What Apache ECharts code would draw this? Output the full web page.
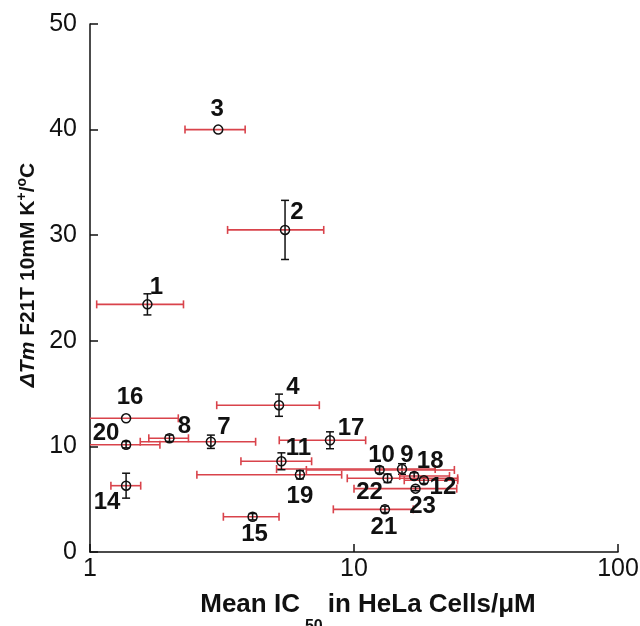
<!DOCTYPE html>
<html><head><meta charset="utf-8">
<script src="https://cdn.jsdelivr.net/npm/echarts@6/dist/echarts.min.js"></script>
<style>html,body{margin:0;padding:0;background:#fff}#c{width:640px;height:626px}</style>
</head><body><div id="c"></div>
<script>
// ---- data ----
const compounds = ['1','2','3','4','7','8','9','10','11','12','14','15','16','17','18','19','20','21','22','23'];
const ic50      = [1.65,5.48,3.06,5.2,2.87,2.0,15.2,12.5,5.31,18.4,1.37,4.13,1.37,8.11,16.9,6.24,1.37,13.1,13.4,17.1];
const ic50Low   = [1.06,3.32,2.29,3.02,1.55,1.67,5.09,6.6,3.73,15.5,1.2,3.2,0.7,5.21,14.9,2.54,0.7,8.35,9.43,10.0];
const ic50High  = [2.26,7.68,3.87,7.39,4.24,2.36,20.3,24.0,6.91,24.7,1.556,5.2,2.16,11.07,23.0,8.98,1.84,16.77,24.7,24.5];
const dTm       = [23.45,30.5,40.0,13.9,10.44,10.77,7.86,7.77,8.59,6.79,6.28,3.34,12.66,10.58,7.2,7.32,10.16,4.04,6.98,6.0];
const dTmErr    = [1.0,2.8,0,1.05,0.63,0.3,0.5,0.3,0.8,0.3,1.18,0.3,0,0.8,0.3,0.4,0.3,0.3,0.4,0.2];
const xTicks = [1, 10, 100];
const yTicks = [0, 10, 20, 30, 40, 50];

// ---- layout (label placement relative to each point, px) ----
const labelOffsets = [[9,-17],[12,-18],[-1,-20],[14,-18],[13,-14],[15,-12],[5,-14],[2,-15],[17,-13],[19,7],
  [-19,17],[2,18],[4,-21],[21,-12],[16,-15],[0,22],[-20,-11],[-1,18],[-18,14],[7,18]];

const FONT = '"Liberation Sans", Arial, Helvetica, sans-serif';
const RED = '#d9434b';
const INK = '#111111';

const barData = compounds.map((c, i) => [ic50[i], dTm[i], ic50Low[i], ic50High[i], dTm[i] - dTmErr[i], dTm[i] + dTmErr[i]]);
const pointData = compounds.map((c, i) => ({
  name: c, value: [ic50[i], dTm[i]],
  label: { offset: labelOffsets[i] }
}));

function renderBars(params, api) {
  const x = api.value(0), y = api.value(1);
  const xl = api.value(2), xh = api.value(3), yl = api.value(4), yh = api.value(5);
  const xMin = xTicks[0];
  const clamped = xl < xMin;
  const pL = api.coord([Math.max(xl, xMin), y]);
  const pH = api.coord([xh, y]);
  const cap = 4;
  const rs = { stroke: RED, lineWidth: 1.6 };
  const ch = [];
  ch.push({ type: 'line', shape: { x1: pL[0], y1: pL[1], x2: pH[0], y2: pH[1] }, style: rs });
  if (!clamped) ch.push({ type: 'line', shape: { x1: pL[0], y1: pL[1] - cap, x2: pL[0], y2: pL[1] + cap }, style: rs });
  ch.push({ type: 'line', shape: { x1: pH[0], y1: pH[1] - cap, x2: pH[0], y2: pH[1] + cap }, style: rs });
  if (yh > yl) {
    const pt = api.coord([x, yh]), pb = api.coord([x, yl]);
    const bs = { stroke: INK, lineWidth: 1.5 };
    ch.push({ type: 'line', shape: { x1: pt[0], y1: pt[1], x2: pb[0], y2: pb[1] }, style: bs });
    ch.push({ type: 'line', shape: { x1: pt[0] - 4, y1: pt[1], x2: pt[0] + 4, y2: pt[1] }, style: bs });
    ch.push({ type: 'line', shape: { x1: pb[0] - 4, y1: pb[1], x2: pb[0] + 4, y2: pb[1] }, style: bs });
  }
  return { type: 'group', children: ch };
}

const axisCommon = {
  axisLine: { lineStyle: { color: INK, width: 1.5 } },
  axisTick: { inside: true, length: 8, lineStyle: { color: INK, width: 1.5 } },
  splitLine: { show: false },
  minorTick: { show: false },
  nameLocation: 'middle'
};

const chart = echarts.init(document.getElementById('c'), null, { renderer: 'canvas' });
chart.setOption({
  animation: false,
  backgroundColor: '#fff',
  grid: { left: 90, right: 22, top: 24, bottom: 74, containLabel: false, outerBoundsMode: 'none' },
  xAxis: Object.assign({}, axisCommon, {
    type: 'log', logBase: 10, min: xTicks[0], max: xTicks[xTicks.length - 1],
    axisLabel: { fontSize: 25, color: INK, fontFamily: FONT, margin: 5 },
    name: '{b|Mean IC}{sub|50}{b|in HeLa Cells/\u03bcM}',
    nameGap: 23,
    nameTextStyle: {
      padding: [0, 0, 0, 28],
      rich: {
        b: { fontSize: 26, fontWeight: 'bold', fontFamily: FONT, color: INK, lineHeight: 28 },
        sub: { fontSize: 16, fontWeight: 'bold', fontFamily: FONT, color: INK, padding: [44, 5, 0, 5] }
      }
    }
  }),
  yAxis: Object.assign({}, axisCommon, {
    type: 'value', min: yTicks[0], max: yTicks[yTicks.length - 1], interval: 10,
    axisLabel: { fontSize: 25, color: INK, fontFamily: FONT, margin: 13 },
    name: '{i|\u0394Tm}{b| F21T 10mM K}{sup|+}{b|/}{sup|o}{b|C}',
    nameRotate: 90,
    nameGap: 39,
    nameTextStyle: {
      padding: [0, 0, 0, 26],
      rich: {
        i: { fontSize: 21, fontWeight: 'bold', fontStyle: 'italic', fontFamily: FONT, color: INK },
        b: { fontSize: 21, fontWeight: 'bold', fontFamily: FONT, color: INK },
        sup: { fontSize: 14, fontWeight: 'bold', fontFamily: FONT, color: INK, padding: [0, 0, 12, 0] }
      }
    }
  }),
  series: [
    {
      type: 'custom', data: barData, renderItem: renderBars, silent: true,
      encode: { x: 0, y: 1 }, z: 2
    },
    {
      type: 'scatter', data: pointData, symbol: 'circle', symbolSize: 9, z: 3, silent: true,
      itemStyle: { color: 'rgba(0,0,0,0)', borderColor: INK, borderWidth: 1.5, opacity: 1 },
      label: {
        show: true, position: 'inside', formatter: '{b}',
        fontSize: 24, fontWeight: 'bold', fontFamily: FONT, color: INK
      },
      emphasis: { disabled: true }
    }
  ]
});
</script>
</body></html>
